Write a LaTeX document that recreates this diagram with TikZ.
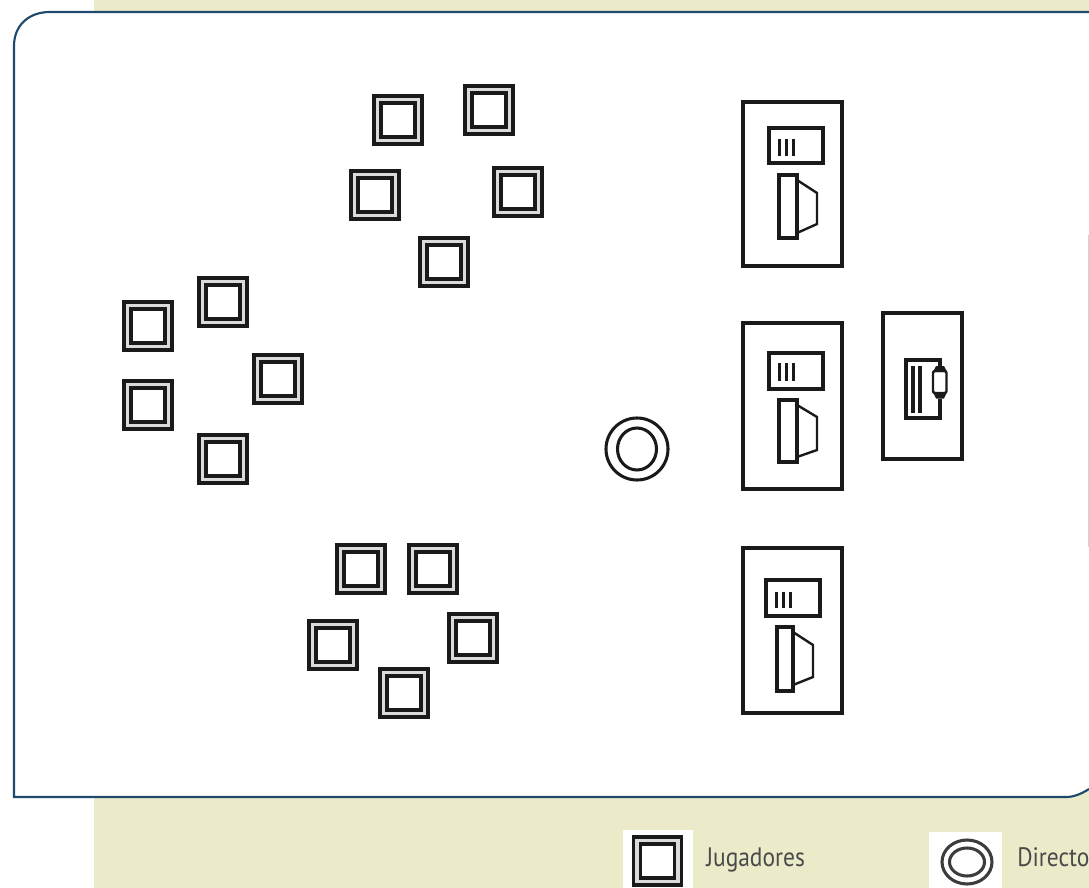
\documentclass[tikz,border=0pt]{standalone}
\usepackage{fontspec}
\setmainfont{PT Sans}
\newfontfamily\legendfont[FakeStretch=0.88]{PT Sans}
\definecolor{olive}{HTML}{ECEBC9}
\definecolor{frame}{HTML}{1F4A6E}
\definecolor{ink}{HTML}{1A1A1A}
\definecolor{labelink}{HTML}{4A4A4A}
\tikzset{
  ring/.style={draw=ink,line width=2.3pt},
  part/.style={draw=ink,line width=2.3pt,line join=miter},
  tick/.style={draw=ink,line width=2.4pt},
  thin part/.style={draw=ink,line width=1.8pt},
  legendtext/.style={text=labelink,font=\legendfont\fontsize{20}{22}\selectfont,anchor=base west,inner sep=0pt},
  pics/player/.style={code={
    \fill[black!14] (-24,-24) rectangle (24,24);
    \draw[ring] (-24,-24) rectangle (24,24);
    \draw[ring,fill=white] (-17,-17) rectangle (17,17);
  }}
}
\begin{document}
\begin{tikzpicture}[x=0.75pt,y=-0.75pt]
\useasboundingbox (0,0) rectangle (1089,888);
\fill[white] (0,0) rectangle (1089,888);
\fill[olive] (94,0) rectangle (1089,888);
\fill[white] (0,12) rectangle (1089,797);
\fill[white] (0,797) rectangle (94,888);
\fill[olive] (1089,789) -- (1089,798) -- (1060,798) .. controls (1072,798) and (1080,795) .. (1089,789) -- cycle;
\draw[frame,line width=1.6pt] (1089,12) -- (50,12) .. controls (28,12) and (14,26) .. (14,46) -- (14,797) -- (1066,797) .. controls (1074,797) and (1081,794) .. (1089,789);
\draw[black!18,line width=0.9pt] (1088.5,235) -- (1088.5,547);

\foreach \n/\x/\y in {a/398/120,b/489/110,c/375/195,d/518/192,e/444/262,
  f/148/326,g/223/302,h/278/379,i/148/405,j/223/459,
  k/361/569,l/433/569,m/333/645,n/473/638,o/404/693}
  \pic (p\n) at (\x,\y) {player};

\draw[ring] (637,449) circle [radius=31];
\draw[ring] (637,449) circle [x radius=19.5,y radius=21];

\begin{scope}[shift={(743,102)}]
  \draw[part] (0,0) rectangle (99,164);
  \draw[part] (26,26) rectangle (80,61);
  \foreach \t in {36.5,43.5,50.5} \draw[tick] (\t,37) -- (\t,54);
  \draw[part] (36,73) rectangle (54,136);
  \draw[thin part] (54,78) -- (74,91) -- (74,122) -- (54,131);
\end{scope}
\begin{scope}[shift={(743,323)}]
  \draw[part] (0,0) rectangle (99,166);
  \draw[part] (26,30) rectangle (80,66);
  \foreach \t in {36.5,43.5,50.5} \draw[tick] (\t,40) -- (\t,58);
  \draw[part] (36,77) rectangle (54,139);
  \draw[thin part] (54,82) -- (74,94) -- (74,127) -- (54,134);
\end{scope}
\begin{scope}[shift={(743,548)}]
  \draw[part] (0,0) rectangle (99,165);
  \draw[part] (23,32) rectangle (77,68);
  \foreach \t in {33.5,40.5,47.5} \draw[tick] (\t,44) -- (\t,60);
  \draw[part] (34,79) rectangle (50,143);
  \draw[thin part] (50,84) -- (70,97) -- (70,129) -- (50,137);
\end{scope}

\draw[part] (883,313) rectangle (962,459);
\draw[part] (940,366) |- (906,360) |- (940,418) -- (940,399);
\draw[tick] (913,366) -- (913,413);
\draw[tick] (920,366) -- (920,413);
\draw[thin part,rounded corners=1.5pt] (933,371) rectangle (946.5,393);
\fill[ink] (933,372) -- (936,366) -- (944,366) -- (947,372) -- cycle;
\fill[ink] (933,392) -- (936,398.5) -- (944,398.5) -- (947,392) -- cycle;

\fill[white] (623,830) rectangle (693,888);
\fill[white] (929,832) rectangle (1002,888);
\pic (legendplayer) at (657.5,861) {player};
\draw[ring,draw=ink!85] (967,862) circle [x radius=25,y radius=22];
\draw[ring,draw=ink!85] (967,862) circle [x radius=17.5,y radius=14];
\node[legendtext] (jug) at (706,866) {Jugadores};
\node[legendtext] (dir) at (1017,866) {Directo};
\end{tikzpicture}
\end{document}
